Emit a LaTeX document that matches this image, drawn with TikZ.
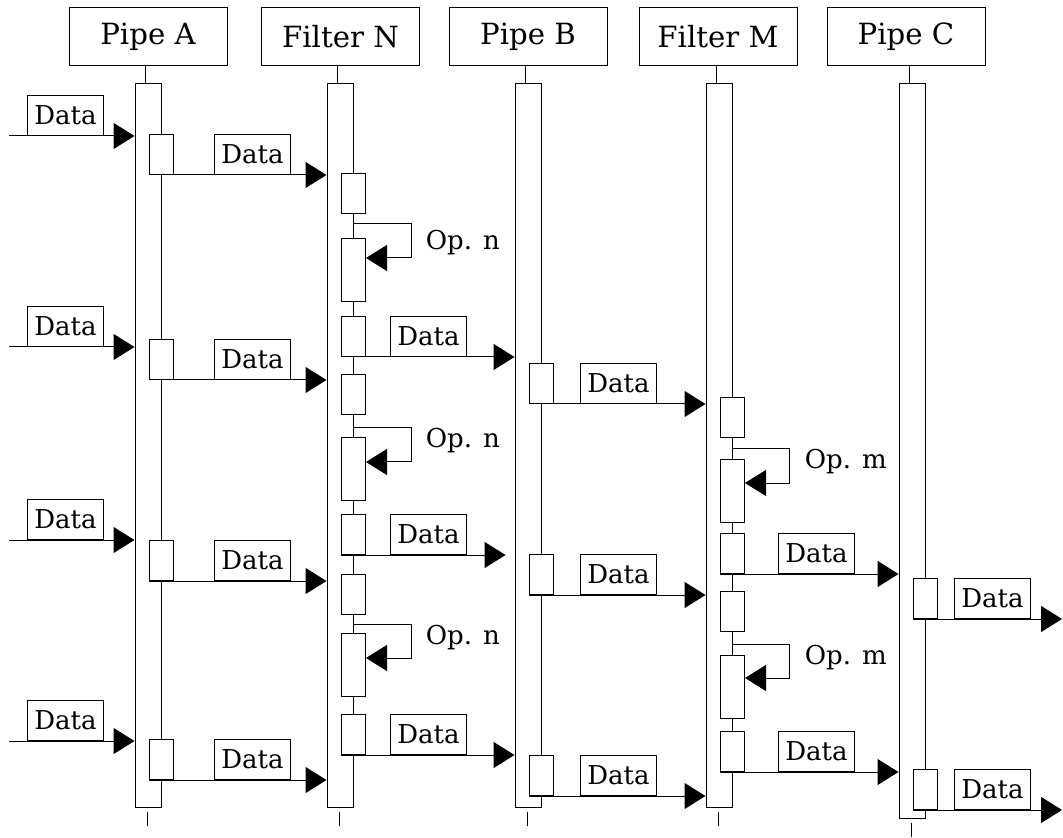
\documentclass[tikz,border=0pt]{standalone}
\usepackage{fontspec}
\setmainfont{DejaVu Serif}
\usetikzlibrary{arrows.meta}
\usetikzlibrary{positioning}
\usetikzlibrary{calc}
\tikzset{basic box/.style={draw,fill=white,line width=0.5pt,inner sep=0pt}}
\tikzset{head box/.style={basic box,
                          minimum width=79pt,
                          minimum height=29pt,
                          font=\fontsize{14.6}{17}\selectfont}}
\tikzset{life box/.style={basic box,minimum width=13pt,anchor=north}}
\tikzset{act box/.style={basic box,minimum width=12pt,minimum height=20pt,anchor=north}}
\tikzset{data box/.style={basic box,
                          minimum width=38pt,
                          minimum height=20pt,
                          anchor=south west,
                          font=\fontsize{13}{15}\selectfont}}
\tikzset{msg/.style={draw,line width=0.5pt,-{Triangle[length=10.5pt,width=13pt]}}}
\tikzset{line/.style={draw,line width=0.5pt}}

\begin{document}
\begin{tikzpicture}
      [
      x=0.5pt,y=-0.5pt,
      self box/.style={act box,minimum height=31.5pt},
      op label/.style={font=\fontsize{13}{15}\selectfont,inner sep=0pt,anchor=west},
      ]
      \useasboundingbox (0,0) rectangle (1063,838);

      % participants
      \foreach \n/\c/\x/\t/\h in
      {
      A/148/148/Pipe A/362,
      N/340.5/340/Filter N/362,
      B/528/528/Pipe B/362,
      M/718/719/Filter M/362,
      C/906/912/Pipe C/367.5
      }
      {
      \node [head box] (H\n) at (\c,37) {\t};
      \node [life box,minimum height=\h pt] (L\n) at (\x,83) {};
      \draw [line] ([xshift=-1.5pt]L\n.north) -- ([xshift=-1.5pt]L\n.north |- H\n.south);
      \draw [line] ([xshift=-0.5pt,yshift=-2pt]L\n.south) -- ++(0,14);
      }

      % activations
      \foreach \n/\l/\y in
      {
      A1/A/134, A2/A/339, A3/A/540, A4/A/739,
      Nr1/N/173, Nr2/N/374, Nr3/N/574,
      Nt1/N/316, Nt2/N/514, Nt3/N/714,
      B1/B/363, B2/B/554, B3/B/755,
      Mr1/M/397, Mr2/M/591,
      Mt1/M/533, Mt2/M/731,
      C1/C/578, C2/C/769
      }
      {
      \node [act box] (\n) at (L\l.east |- 0,\y) {};
      }

      % self calls
      \foreach \n/\l/\y/\t/\b/\w/\o/\txt in
      {
      Ns1/N/238/224/258/58/243/n,
      Ns2/N/437/428/462/58/441/n,
      Ns3/N/633/624/658/58/638/n,
      Ms1/M/459/449/483/57/462/m,
      Ms2/M/655/644/678/57/658/m
      }
      {
      \node [self box] (\n) at (L\l.east |- 0,\y) {};
      \draw [msg] (L\l.east |- 0,\t) -- ++(\w,0) -- ++(0,{\b-\t}) -- (\n.east |- 0,\b);
      \node [op label] (O\n) at ($(L\l.east |- 0,\o)+(72,0)$) {Op. \txt};
      }

      % incoming data
      \foreach \k/\y in {1/136,2/347,3/540,4/741}
      {
      \coordinate (in\k) at (9,\y);
      \draw [msg] (in\k) -- (in\k -| LA.west);
      \node [data box] (Din\k) at ([xshift=9pt]in\k) {Data};
      }

      % messages
      \foreach \s/\t/\o/\sh in
      {
      A1/N/20/0, A2/N/20/0, A3/N/20/0, A4/N/20/0,
      Nt1/B/12/0, Nt2/B/12/-4.5, Nt3/B/12/0,
      B1/M/13/0, B2/M/13/0, B3/M/13/0,
      Mt1/C/16.5/0, Mt2/C/16.5/0
      }
      {
      \draw [msg] (\s.south west) -- ([xshift=\sh pt]\s.south west -| L\t.west);
      \node [data box] (D\s) at ([xshift=\o pt]\s.south east) {Data};
      }

      % outgoing data
      \foreach \s in {C1,C2}
      {
      \coordinate (out\s) at (\s.south west -| 1062,0);
      \draw [msg] (\s.south west) -- (out\s);
      \node [data box] (D\s) at ([xshift=8pt]\s.south east) {Data};
      }

    \end{tikzpicture}
\end{document}
